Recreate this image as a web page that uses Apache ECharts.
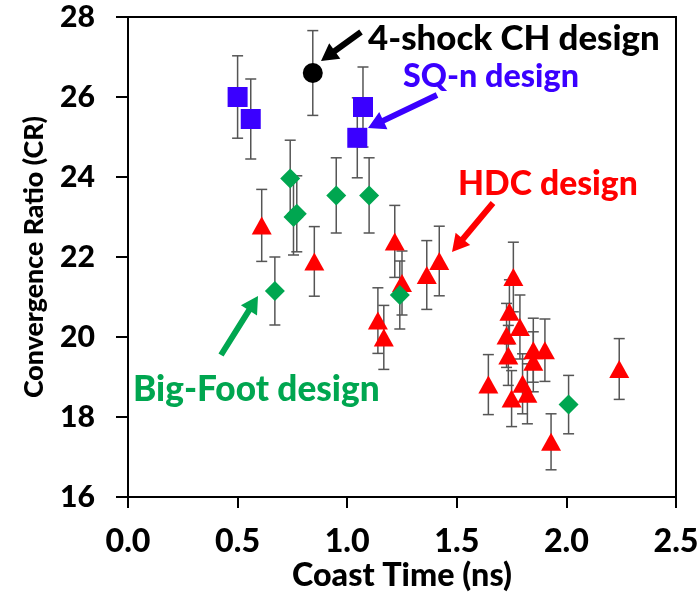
<!DOCTYPE html>
<html><head><meta charset="utf-8">
<script src="https://cdn.jsdelivr.net/npm/echarts@6/dist/echarts.min.js"></script>
<style>html,body{margin:0;padding:0;background:#fff}#c{width:700px;height:598px}</style>
</head><body><div id="c"></div>
<script>
// ---- data ----
const xTickValues = [0.0, 0.5, 1.0, 1.5, 2.0, 2.5];
const yTickValues = [16, 18, 20, 22, 24, 26, 28];

const hdcX   = [0.61, 0.85, 1.217, 1.25, 1.14, 1.167, 1.363, 1.42, 1.758, 1.74, 1.788, 1.727, 1.735, 1.849, 1.902, 1.849, 1.644, 1.80, 1.822, 1.75, 1.93, 2.241];
const hdcY   = [22.79, 21.89, 22.39, 21.35, 20.41, 19.99, 21.55, 21.9, 21.5, 20.63, 20.25, 20.04, 19.54, 19.67, 19.67, 19.38, 18.81, 18.83, 18.58, 18.46, 17.38, 19.2];
const hdcErr = [0.9, 0.87, 0.9, 0.8, 0.82, 0.8, 0.86, 0.87, 0.87, 0.8, 0.8, 0.8, 0.75, 0.8, 0.78, 0.75, 0.75, 0.75, 0.75, 0.7, 0.7, 0.76];

const bfX   = [0.74, 0.755, 0.77, 0.67, 0.95, 1.10, 1.24, 2.01];
const bfY   = [23.96, 23.0, 23.08, 21.15, 23.54, 23.54, 21.05, 18.31];
const bfErr = [0.96, 0.95, 0.95, 0.85, 0.94, 0.94, 0.85, 0.73];

const sqX   = [0.50, 0.56, 1.072, 1.046];
const sqY   = [26.0, 25.45, 25.75, 24.98];
const sqErr = [1.03, 1.0, 1.0, 1.0];

const chX   = [0.843];
const chY   = [26.6];
const chErr = [1.06];

const labels = ['4-shock CH design', 'SQ-n design', 'HDC design', 'Big-Foot design'];
const xTitle = 'Coast Time (ns)';
const yTitle = 'Convergence Ratio (CR)';

// ---- styles ----
const RED = '#ff0000', GREEN = '#00a650', BLUE = '#3a00ff', BLACK = '#000000';
const FONT = 'Lato';
const W = 900;

// font size that makes a text span a given pixel width
const mctx = document.createElement('canvas').getContext('2d');
function fit(text, width) {
  mctx.font = W + ' 100px ' + FONT;
  return 100 * width / mctx.measureText(text).width;
}

function zip(xs, ys, es) { return xs.map((x, i) => [x, ys[i], es[i]]); }

function errRender(params, api) {
  const x = api.value(0), y = api.value(1), e = api.value(2);
  const t = api.coord([x, y + e]), b = api.coord([x, y - e]);
  const cap = 5.5;
  const st = { stroke: '#555', lineWidth: 1.5 };
  return { type: 'group', children: [
    { type: 'line', shape: { x1: t[0], y1: t[1], x2: b[0], y2: b[1] }, style: st },
    { type: 'line', shape: { x1: t[0] - cap, y1: t[1], x2: t[0] + cap, y2: t[1] }, style: st },
    { type: 'line', shape: { x1: b[0] - cap, y1: b[1], x2: b[0] + cap, y2: b[1] }, style: st }
  ]};
}

function errSeries(xs, ys, es) {
  return { type: 'custom', renderItem: errRender, data: zip(xs, ys, es), z: 1, silent: true,
           encode: { x: 0, y: 1 } };
}
function ptSeries(name, xs, ys, es, symbol, size, color) {
  return { name, type: 'scatter', data: zip(xs, ys, es), symbol, symbolSize: size,
           itemStyle: { color: color, opacity: 1 }, z: 3, encode: { x: 0, y: 1 } };
}

function arrow(x1, y1, x2, y2, color) {
  const dx = x2 - x1, dy = y2 - y1, L = Math.hypot(dx, dy);
  const ux = dx / L, uy = dy / L, px = -uy, py = ux;
  const hl = 17, hw = 9.5, sw = 3;
  const bx = x2 - ux * hl, by = y2 - uy * hl;
  const pts = [
    [x1 + px * sw, y1 + py * sw], [bx + px * sw, by + py * sw], [bx + px * hw, by + py * hw],
    [x2, y2], [bx - px * hw, by - py * hw], [bx - px * sw, by - py * sw], [x1 - px * sw, y1 - py * sw]
  ];
  return { type: 'polygon', shape: { points: pts }, style: { fill: color }, z: 10 };
}
function label(text, x, y, width, color) {
  const fs = fit(text, width);
  return { type: 'text', x: x, y: y, z: 10,
           style: { text: text, fill: color, font: W + ' ' + fs.toFixed(1) + 'px ' + FONT,
                    textAlign: 'left', textVerticalAlign: 'middle' } };
}

const xTickFs = fit('0.0', 45);
const yTickFs = fit('16', 35);
const xTitleFs = fit(xTitle, 220);
const yTitleFs = fit(yTitle, 282);

const chart = echarts.init(document.getElementById('c'), null, { renderer: 'canvas' });
chart.setOption({
  animation: false,
  backgroundColor: '#fff',
  grid: { left: 128, right: 24, top: 17, bottom: 101, show: true, borderColor: '#000', borderWidth: 2,
          containLabel: false, outerBoundsMode: 'none' },
  xAxis: {
    type: 'value', min: xTickValues[0], max: xTickValues[xTickValues.length - 1], interval: 0.5,
    name: xTitle, nameLocation: 'middle', nameGap: 63, nameMoveOverlap: false,
    nameTextStyle: { fontFamily: FONT, fontWeight: W, fontSize: xTitleFs, color: '#000' },
    axisLine: { show: true, onZero: false, lineStyle: { color: '#000', width: 2 } },
    axisTick: { show: true, inside: false, length: 11, lineStyle: { color: '#000', width: 2 } },
    axisLabel: { fontFamily: FONT, fontWeight: W, fontSize: xTickFs, color: '#000', margin: 29,
                 formatter: v => v.toFixed(1) },
    splitLine: { show: false }
  },
  yAxis: {
    type: 'value', min: yTickValues[0], max: yTickValues[yTickValues.length - 1], interval: 2,
    name: yTitle, nameLocation: 'middle', nameGap: 80, nameMoveOverlap: false,
    nameTextStyle: { fontFamily: FONT, fontWeight: W, fontSize: yTitleFs, color: '#000' },
    axisLine: { show: true, onZero: false, lineStyle: { color: '#000', width: 2 } },
    axisTick: { show: true, inside: false, length: 12, lineStyle: { color: '#000', width: 2 } },
    axisLabel: { fontFamily: FONT, fontWeight: W, fontSize: yTickFs, color: '#000', margin: 33 },
    splitLine: { show: false }
  },
  series: [
    errSeries(hdcX, hdcY, hdcErr),
    errSeries(bfX, bfY, bfErr),
    errSeries(sqX, sqY, sqErr),
    errSeries(chX, chY, chErr),
    ptSeries('HDC design', hdcX, hdcY, hdcErr, 'triangle', [20, 18], RED),
    ptSeries('Big-Foot design', bfX, bfY, bfErr, 'diamond', [20, 20], GREEN),
    ptSeries('SQ-n design', sqX, sqY, sqErr, 'rect', [20, 20], BLUE),
    ptSeries('4-shock CH design', chX, chY, chErr, 'circle', 20, BLACK)
  ],
  graphic: [
    arrow(361, 32, 321, 61, BLACK),
    arrow(437, 95, 368, 128, BLUE),
    arrow(493, 203, 452, 252, RED),
    arrow(221, 355, 258, 296, GREEN),
    label(labels[0], 368, 39, 292, BLACK),
    label(labels[1], 403, 77, 176, BLUE),
    label(labels[2], 458, 184, 180, RED),
    label(labels[3], 133, 390, 247, GREEN)
  ]
});
</script>
</body></html>
